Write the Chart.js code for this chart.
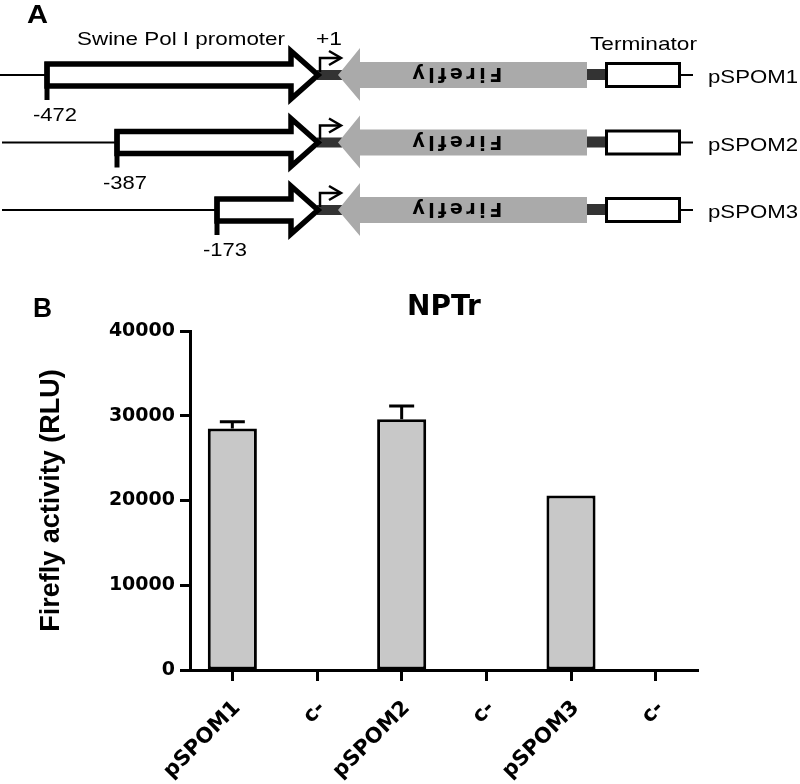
<!DOCTYPE html>
<html>
<head>
<meta charset="utf-8">
<script src="https://cdn.jsdelivr.net/npm/chart.js@4.4.0/dist/chart.umd.min.js"></script>
<style>
  html, body { margin: 0; padding: 0; background: #fff; }
  #wrap { position: relative; width: 800px; height: 784px; }
  #chart { position: absolute; left: 0; top: 0; }
  #diagram { position: absolute; left: 0; top: 0; pointer-events: none; }
</style>
</head>
<body>
<div id="wrap">
  <canvas id="chart" width="800" height="784"></canvas>
  <svg id="diagram" width="800" height="784" xmlns="http://www.w3.org/2000/svg"></svg>
</div>
<script>
// panel B data
var categories = ['pSPOM1', 'c-', 'pSPOM2', 'c-', 'pSPOM3', 'c-'];
var activity = [28500, 0, 29600, 0, 20600, 0];
var activityErr = [800, 0, 1550, 0, 0, 0];
var yTicks = [0, 10000, 20000, 30000, 40000];

// panel A constructs
var constructs = ['pSPOM1', 'pSPOM2', 'pSPOM3'];
var promoterStart = ['-472', '-387', '-173'];

// ---- panel A schematic (svg) ----
var NS = 'http://www.w3.org/2000/svg';
var svg = document.getElementById('diagram');
function el(tag, attrs, txt) {
  var e = document.createElementNS(NS, tag);
  for (var k in attrs) e.setAttribute(k, attrs[k]);
  if (txt != null) e.textContent = txt;
  svg.appendChild(e);
  return e;
}
function label(x, y, s, len, size, bold) {
  return el('text', {
    x: x, y: y, 'font-family': 'Liberation Sans, Arial, sans-serif',
    'font-size': size, 'font-weight': bold ? 'bold' : 'normal',
    textLength: len, lengthAdjust: 'spacingAndGlyphs', fill: '#000'
  }, s);
}

label(27, 23, 'A', 21, 25, true);
label(77, 45, 'Swine Pol I promoter', 208, 19);
label(316, 45, '+1', 26, 19);
label(590, 50, 'Terminator', 107, 19);

var rowX = [47, 117, 217];   // schematic, not to scale
constructs.forEach(function (name, i) {
  var yc = 75 + i * 67.5;
  var x0 = rowX[i];
  // upstream line
  el('line', { x1: i ? 2 : 0, y1: yc, x2: x0, y2: yc, stroke: '#000', 'stroke-width': 2 });
  // dark linkers
  el('rect', { x: 317, y: yc - 5, width: 25, height: 10, fill: '#333' });
  el('rect', { x: 585, y: yc - 6, width: 20, height: 11, fill: '#333' });
  // firefly (reverse orientation)
  el('polygon', {
    points: [338, yc, 360, yc - 27, 360, yc - 13, 587, yc - 13, 587, yc + 13, 360, yc + 13, 360, yc + 26].join(' '),
    fill: '#aaaaaa'
  });
  el('text', {
    x: 459.5, y: yc, 'font-family': 'DejaVu Sans, sans-serif', 'font-size': 19,
    'font-weight': 'bold', 'text-anchor': 'middle', 'dominant-baseline': 'central',
    'letter-spacing': 3.5, fill: '#000',
    transform: 'rotate(180 457.5 ' + yc + ')'
  }, 'Firefly');
  // promoter arrow
  el('polygon', {
    points: [x0, yc - 11, 291, yc - 11, 291, yc - 24, 318, yc, 291, yc + 24, 291, yc + 11, x0, yc + 11].join(' '),
    fill: '#fff', stroke: '#000', 'stroke-width': 5.5, 'stroke-linejoin': 'miter'
  });
  el('line', { x1: x0, y1: yc - 13, x2: x0, y2: yc + 25, stroke: '#000', 'stroke-width': 5 });
  label(x0 - 14, yc + 46, promoterStart[i], 44, 19);
  // +1 transcription start
  el('polyline', {
    points: [320, yc - 3, 320, yc - 17, 340, yc - 17].join(' '),
    fill: 'none', stroke: '#000', 'stroke-width': 2.5
  });
  el('polyline', {
    points: [329, yc - 24, 341, yc - 17, 329, yc - 10].join(' '),
    fill: 'none', stroke: '#000', 'stroke-width': 2.5
  });
  // terminator
  el('rect', { x: 606.5, y: yc - 11.5, width: 73, height: 23, fill: '#fff', stroke: '#000', 'stroke-width': 3 });
  el('line', { x1: 680, y1: yc, x2: 693, y2: yc, stroke: '#000', 'stroke-width': 2 });
  label(708, yc + 8, name, 90, 19);
});

label(33, 317, 'B', 19, 27, true);

// ---- panel B bar chart ----
var errorBars = {
  id: 'errorBars',
  afterDatasetsDraw: function (chart) {
    var ctx = chart.ctx, y = chart.scales.y;
    var meta = chart.getDatasetMeta(0);
    ctx.save();
    ctx.strokeStyle = '#000';
    ctx.lineWidth = 3;
    meta.data.forEach(function (bar, i) {
      if (!activityErr[i]) return;
      var top = y.getPixelForValue(activity[i] + activityErr[i]);
      ctx.beginPath();
      ctx.moveTo(bar.x, bar.y);
      ctx.lineTo(bar.x, top);
      ctx.moveTo(bar.x - 12.5, top);
      ctx.lineTo(bar.x + 12.5, top);
      ctx.stroke();
    });
    ctx.restore();
  }
};

var boldFont = function (fam, size) { return { family: fam, weight: 'bold', size: size, lineHeight: 1.2 }; };

new Chart(document.getElementById('chart').getContext('2d'), {
  type: 'bar',
  data: {
    labels: categories,
    datasets: [{
      data: activity,
      backgroundColor: '#c8c8c8',
      borderColor: '#000',
      borderWidth: 3,
      borderSkipped: false,
      barPercentage: 0.58,
      categoryPercentage: 1
    }]
  },
  options: {
    responsive: false,
    animation: false,
    layout: { padding: { top: 0, left: 0, right: 102, bottom: 0 } },
    plugins: {
      legend: { display: false },
      tooltip: { enabled: false },
      title: {
        display: true, text: 'NPTr', color: '#000', fullSize: false,
        font: boldFont('DejaVu Sans', 28),
        padding: { top: 290.7, bottom: 6.7 }
      }
    },
    scales: {
      x: {
        offset: true,
        ticks: {
          color: '#000', font: boldFont('DejaVu Sans', 21),
          minRotation: 45, maxRotation: 45, autoSkip: false, padding: 15, labelOffset: 5
        },
        grid: { display: true, offset: false, drawOnChartArea: false, drawTicks: true, tickLength: 11, tickWidth: 3, tickColor: '#000' },
        border: { display: true, width: 3, color: '#000' },
        afterFit: function (s) { s.height = 114; }
      },
      y: {
        min: 0, max: 40000,
        afterBuildTicks: function (s) { s.ticks = yTicks.map(function (v) { return { value: v }; }); },
        ticks: {
          color: '#000', font: boldFont('DejaVu Sans', 19), padding: 5,
          callback: function (v) { return String(v); }
        },
        grid: { display: true, drawOnChartArea: false, drawTicks: true, tickLength: 10, tickWidth: 3, tickColor: '#000' },
        border: { display: true, width: 3, color: '#000' },
        title: {
          display: true, text: 'Firefly activity (RLU)', color: '#000',
          font: boldFont('Liberation Sans', 27), padding: { top: 35, bottom: 0 }
        },
        afterFit: function (s) { s.width = 190; }
      }
    }
  },
  plugins: [errorBars]
});
</script>
</body>
</html>
